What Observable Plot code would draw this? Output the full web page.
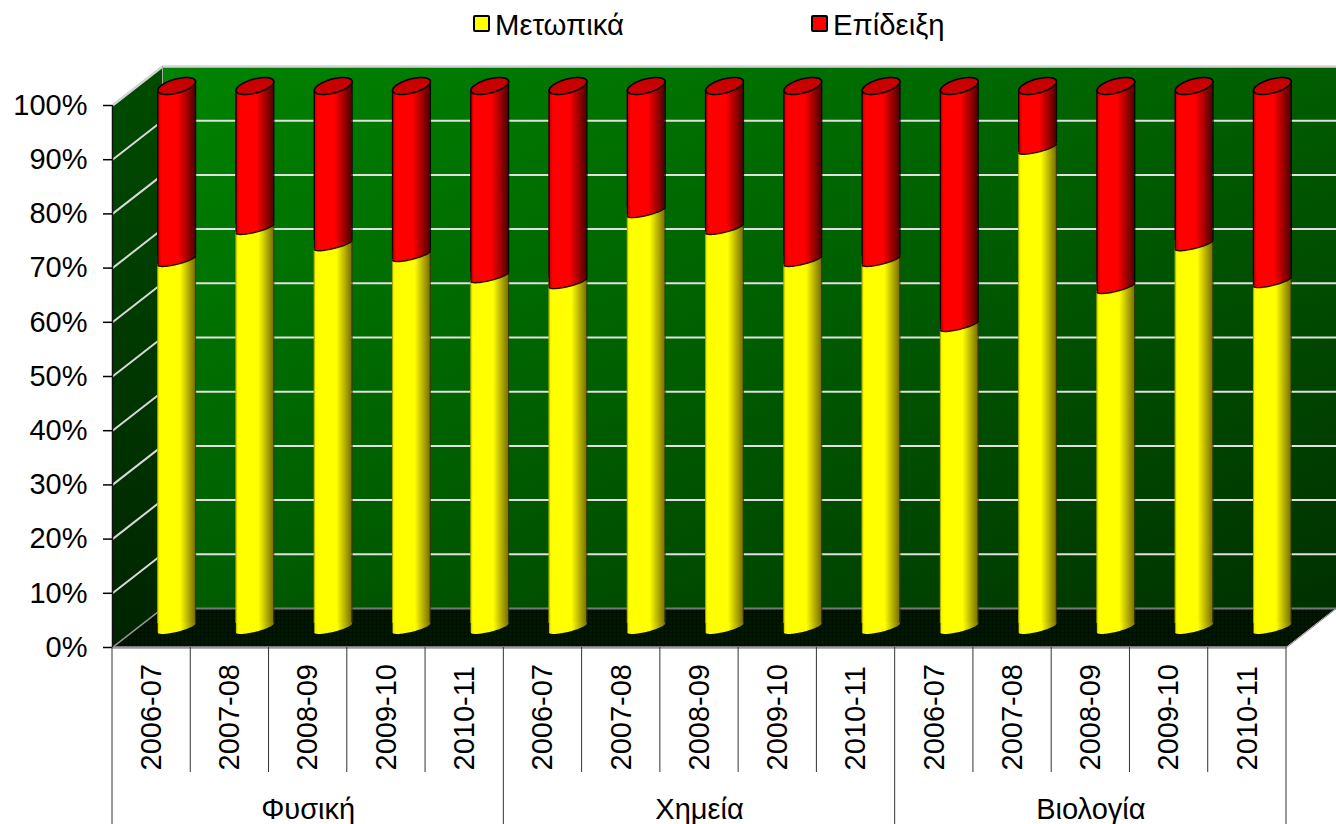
<!DOCTYPE html>
<html><head><meta charset="utf-8">
<script src="https://cdn.jsdelivr.net/npm/d3@7"></script>
<script src="https://cdn.jsdelivr.net/npm/@observablehq/plot@0.6"></script>
<style>
html,body{margin:0;padding:0;background:#fff;overflow:hidden}
#legend{position:relative;height:48px;font:29.3px "Liberation Sans",Arial,sans-serif;color:#000}
#legend span{position:absolute;top:8px;line-height:34px}
#legend i{position:absolute;top:15px;width:13px;height:13px;border:2px solid #000;border-radius:2px}
svg{display:block}
</style></head><body>
<div id="legend">
<i style="left:473px;background:#ff0"></i><span style="left:495px">Μετωπικά</span>
<i style="left:811px;background:#f00"></i><span style="left:833px">Επίδειξη</span>
</div>
<div id="chart"></div>
<script>
const groups = ["Φυσική", "Χημεία", "Βιολογία"];
const years = ["2006-07", "2007-08", "2008-09", "2009-10", "2010-11"];
const metopika = [67.8, 73.7, 70.7, 68.7, 64.8, 63.7, 76.8, 73.7, 67.8, 67.8, 55.8, 88.5, 62.8, 70.7, 63.9];
const epideixi = [32.2, 26.3, 29.3, 31.3, 35.2, 36.3, 23.2, 26.3, 32.2, 32.2, 44.2, 11.5, 37.2, 29.3, 36.1];
const yTicks = [0, 10, 20, 30, 40, 50, 60, 70, 80, 90, 100];

const rows = metopika.map((m, i) => ({
  i, m, e: epideixi[i],
  year: years[i % years.length],
  cx: i + 0.5 + 0.3195
}));

// depth of the 3-D box, in data units
const dX = 0.639, dY = 7.2, hw = 0.2415, capU = 0.83, base = 0;
const mid = dY / 2;
// sheared ellipse of the cylinder caps, in pixels
const A = 18.9, C = 4.5, DTop = 7.2, DLow = 3.9, over = 1.5;
const pt = (t, D) => [A * Math.cos(t), -C * Math.cos(t) + D * Math.sin(t)];
function arc(p, t0, t1, D) {
  const n = 40;
  for (let k = 0; k <= n; k++) {
    const [x, y] = pt(t0 + (t1 - t0) * k / n, D);
    if (k === 0) p.moveTo(x, y); else p.lineTo(x, y);
  }
}
const lowerCap = {draw(p) { arc(p, 0, Math.PI, DLow); p.lineTo(-A, -C - over); p.lineTo(A, -C - over); p.closePath(); }};
const lowerArc = {draw(p) { arc(p, 0, Math.PI, DLow); }};
const topBase = {draw(p) { arc(p, Math.PI, 2 * Math.PI, DTop); p.lineTo(A, C + over); p.lineTo(-A, C + over); p.closePath(); }};
const ellipse = {draw(p) { arc(p, 0, 2 * Math.PI, DTop); p.closePath(); }};

const defs = () => {
  const g = document.createElementNS("http://www.w3.org/2000/svg", "g");
  g.innerHTML = `<defs>
  <linearGradient id="wallG" x1="0" y1="0" x2="1" y2="1">
    <stop offset="0" stop-color="#008400"/><stop offset=".45" stop-color="#006200"/><stop offset="1" stop-color="#003000"/>
  </linearGradient>
  <linearGradient id="sideG" x1="0" y1="0" x2="0" y2="1">
    <stop offset="0" stop-color="#004c00"/><stop offset="1" stop-color="#002400"/>
  </linearGradient>
  <pattern id="floorP" width="4" height="4" patternUnits="userSpaceOnUse">
    <rect width="4" height="4" fill="#001a00"/><rect width="4" height="1" fill="#001000"/><rect width="1" height="4" fill="#001000"/>
  </pattern>
  <linearGradient id="redG" x1="0" y1="0" x2="1" y2="0">
    <stop offset="0" stop-color="#b00000"/><stop offset=".1" stop-color="#f00"/><stop offset=".55" stop-color="#f00"/><stop offset="1" stop-color="#500000"/>
  </linearGradient>
  <linearGradient id="yelG" x1="0" y1="0" x2="1" y2="0">
    <stop offset="0" stop-color="#e6e600"/><stop offset=".08" stop-color="#ff0"/><stop offset=".6" stop-color="#ff0"/><stop offset="1" stop-color="#7a7000"/>
  </linearGradient>
  </defs>`;
  return g;
};

const wallRow = [{x1: dX, x2: 15 + dX, y1: dY, y2: 100 + dY}];
const sideRows = [{x: 0, y1: 0, y2: 100}, {x: dX, y1: dY, y2: 100 + dY}];
const floorRows = [
  {x: 0, y1: 0, y2: 0}, {x: dX, y1: 0, y2: dY},
  {x: 15, y1: 0, y2: dY}, {x: 15 + dX, y1: dY, y2: dY}
];
const inner = yTicks.slice(1, -1);
const seps = d3.range(0, 16);

const chart = Plot.plot({
  width: 1336, height: 776,
  marginLeft: 112, marginRight: 50, marginTop: 57, marginBottom: 177,
  style: {fontFamily: '"Liberation Sans", Arial, sans-serif', color: "#000", background: "#fff", overflow: "visible"},
  x: {domain: [0, 15], axis: null},
  y: {domain: [0, 100]},
  marks: [
    defs,
    Plot.rect(wallRow, {x1: "x1", x2: "x2", y1: "y1", y2: "y2", fill: "url(#wallG)"}),
    Plot.areaY(sideRows, {x: "x", y1: "y1", y2: "y2", fill: "url(#sideG)"}),
    Plot.areaY(floorRows, {x: "x", y1: "y1", y2: "y2", fill: "url(#floorP)"}),
    // gridlines on back and side wall
    Plot.ruleY(inner, {y: d => d + dY, x1: dX, x2: 15 + dX, stroke: "#e0e0e0", strokeWidth: 2}),
    Plot.link(inner, {x1: 0, y1: d => d, x2: dX, y2: d => d + dY, stroke: "#d9d9d9", strokeWidth: 2}),
    // box edges
    Plot.ruleY([100 + dY], {x1: dX, x2: 15 + dX, stroke: "#d4d4d4", strokeWidth: 2.5}),
    Plot.link([100], {x1: 0, y1: d => d, x2: dX, y2: d => d + dY, stroke: "#d4d4d4", strokeWidth: 2.5}),
    Plot.ruleX([dX], {y1: 100 + dY, y2: dY, stroke: "#a8a8a8", strokeWidth: 1}),
    Plot.ruleY([dY], {x1: dX, x2: 15 + dX, stroke: "#777", strokeWidth: 2}),
    Plot.link([0], {x1: 0, y1: d => d, x2: dX, y2: d => d + dY, stroke: "#999", strokeWidth: 1.5}),
    Plot.link([15], {x1: d => d, y1: 0, x2: d => d + dX, y2: dY, stroke: "#888", strokeWidth: 1}),
    Plot.ruleY([0], {x1: 0, x2: 15, stroke: "#9a9a9a", strokeWidth: 2.5}),
    // yellow cylinder part
    Plot.rect(rows, {x1: d => d.cx - hw, x2: d => d.cx + hw, y1: () => base + mid + capU, y2: d => d.m + mid + capU, fill: "url(#yelG)"}),
    Plot.dot(rows, {x: "cx", y: () => base + mid, symbol: lowerCap, fill: "url(#yelG)", stroke: "none"}),
    Plot.ruleX(rows, {x: d => d.cx - hw, y1: () => base + mid, y2: d => d.m + mid, dy: C, stroke: "#5a5a00", strokeOpacity: 0.45, strokeWidth: 1}),
    Plot.ruleX(rows, {x: d => d.cx + hw, y1: () => base + mid, y2: d => d.m + mid, dy: -C, stroke: "#3a3600", strokeOpacity: 0.8, strokeWidth: 1.2}),
    // red cylinder part
    Plot.rect(rows, {x1: d => d.cx - hw, x2: d => d.cx + hw, y1: d => d.m + mid + capU, y2: d => d.m + d.e + mid - capU, fill: "url(#redG)"}),
    Plot.dot(rows, {x: "cx", y: d => d.m + mid, symbol: lowerCap, fill: "url(#redG)", stroke: "none"}),
    Plot.dot(rows, {x: "cx", y: d => d.m + d.e + mid, symbol: topBase, fill: "url(#redG)", stroke: "none"}),
    Plot.dot(rows, {x: "cx", y: d => d.m + mid, symbol: lowerArc, fill: "none", stroke: "#000", strokeWidth: 1.4, strokeOpacity: 0.85}),
    Plot.ruleX(rows, {x: d => d.cx - hw, y1: d => d.m + mid, y2: d => d.m + d.e + mid, dy: C, stroke: "#000", strokeWidth: 1.4, strokeOpacity: 0.85}),
    Plot.ruleX(rows, {x: d => d.cx + hw, y1: d => d.m + mid, y2: d => d.m + d.e + mid, dy: -C, stroke: "#000", strokeWidth: 1.4, strokeOpacity: 0.85}),
    Plot.dot(rows, {x: "cx", y: d => d.m + d.e + mid, symbol: ellipse, fill: "#c80000", stroke: "#000", strokeWidth: 1.6}),
    // front axis
    Plot.ruleX([0], {y1: 0, y2: 100, stroke: "#111", strokeWidth: 1.5}),
    Plot.axisY(yTicks, {
      anchor: "left", label: null, tickSize: 9, tickPadding: 16, fontSize: 29,
      tickFormat: d => d + "%", stroke: "#000", strokeWidth: 1.5
    }),
    // two-level category axis
    Plot.ruleX(seps, {x: d => d, y1: 0, y2: 0, stroke: "#000", strokeWidth: 1,
      render: (index, scales, values, dims) => {
        const g = d3.create("svg:g");
        for (const i of index) {
          const x = scales.x(seps[i]), y0 = scales.y(0);
          g.append("line").attr("x1", x).attr("x2", x).attr("y1", y0)
            .attr("y2", seps[i] % 5 === 0 ? dims.height : y0 + 125)
            .attr("stroke", "#333").attr("stroke-width", 1);
        }
        return g.node();
      }
    }),
    Plot.text(rows, {x: d => d.i + 0.5, y: 0, dy: 123, text: "year", rotate: -90, textAnchor: "start", lineAnchor: "middle", fontSize: 29, fill: "#000"}),
    Plot.text(groups, {x: (d, i) => i * 5 + 2.5, y: 0, dy: 162, text: d => d, fontSize: 29, fill: "#000"})
  ]
});
document.getElementById("chart").append(chart);
</script>
</body></html>
